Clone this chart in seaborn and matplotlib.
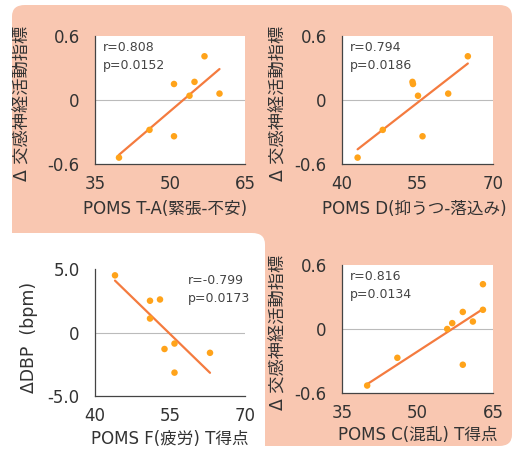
import matplotlib
matplotlib.use("Agg")
import matplotlib.pyplot as plt
import seaborn as sns
import pandas as pd
from matplotlib.patches import FancyBboxPatch

sns.set_style("white")
plt.rcParams['font.family'] = ['DejaVu Sans', 'Noto Sans CJK JP']

# data
ta_x = [39.8, 45.9, 50.8, 50.8, 53.9, 54.9, 56.9, 59.9]
ta_y = [-0.54, -0.28, 0.15, -0.34, 0.04, 0.17, 0.41, 0.06]

d_x = [43.1, 48.1, 54.0, 54.1, 55.1, 56.0, 61.1, 65.0]
d_y = [-0.54, -0.28, 0.17, 0.15, 0.04, -0.34, 0.06, 0.41]

f_x = [44.0, 51.0, 53.0, 51.0, 53.9, 55.9, 55.9, 63.0]
f_y = [4.5, 2.5, 2.6, 1.1, -1.3, -0.87, -3.16, -1.6]

c_x = [40.0, 46.0, 55.9, 56.9, 59.0, 59.0, 61.0, 63.0, 63.0]
c_y = [-0.53, -0.27, 0.0, 0.055, 0.16, -0.335, 0.07, 0.42, 0.18]

bg = '#F9C7B1'
dot = '#FFA31A'
line = '#F47B3F'
spine = '#444444'
txtc = '#333333'

fig = plt.figure(figsize=(5.17, 4.53), dpi=100)
W, H = 517, 453

def px(x0, y0, x1, y1):
    return x0 / W, 1 - y1 / H, (x1 - x0) / W, (y1 - y0) / H

# salmon background (L shape)
l, b, w, h = px(12, 5, 512, 446)
fig.patches.append(FancyBboxPatch((l, b), w, h, boxstyle="round,pad=0,rounding_size=0.025",
                                  transform=fig.transFigure, fc=bg, ec='none', zorder=-10))
l, b, w, h = px(-20, 233, 265, 480)
fig.patches.append(FancyBboxPatch((l, b), w, h, boxstyle="round,pad=0,rounding_size=0.025",
                                  transform=fig.transFigure, fc='white', ec='none', zorder=-9))

panels = [
    (ta_x, ta_y, px(95, 36, 245, 164), (35, 65), [35, 50, 65], (-0.6, 0.6), [-0.6, 0, 0.6],
     ['-0.6', '0', '0.6'], 'POMS T-A(緊張-不安)', 'Δ 交感神経活動指標', 'r=0.808\np=0.0152',
     (0.05, 0.96), (0.47, -0.28), (-0.42, 0.47)),
    (d_x, d_y, px(342, 36, 493, 164), (40, 70), [40, 55, 70], (-0.6, 0.6), [-0.6, 0, 0.6],
     ['-0.6', '0', '0.6'], 'POMS D(抑うつ-落込み)', 'Δ 交感神経活動指標', 'r=0.794\np=0.0186',
     (0.05, 0.96), (0.477, -0.28), (-0.36, 0.47)),
    (f_x, f_y, px(95, 269, 245, 396), (40, 70), [40, 55, 70], (-5, 5), [-5, 0, 5],
     ['-5.0', '0', '5.0'], 'POMS F(疲労) T得点', 'ΔDBP  (bpm)', 'r=-0.799\np=0.0173',
     (0.62, 0.96), (0.5, -0.27), (-0.38, 0.46)),
    (c_x, c_y, px(342, 265, 493, 393), (35, 65), [35, 50, 65], (-0.6, 0.6), [-0.6, 0, 0.6],
     ['-0.6', '0', '0.6'], 'POMS C(混乱) T得点', 'Δ 交感神経活動指標', 'r=0.816\np=0.0134',
     (0.05, 0.96), (0.5, -0.26), (-0.36, 0.47)),
]

for xs, ys, rect, xl, xt, yl, yt, ytl, xlab, ylab, txt, tpos, xlpos, ylpos in panels:
    ax = fig.add_axes(rect)
    ax.set_facecolor('white')
    df = pd.DataFrame({'x': xs, 'y': ys})
    ax.axhline(0, color='#bbbbbb', lw=0.8, zorder=1)
    sns.regplot(data=df, x='x', y='y', ax=ax, scatter=False, ci=None,
                line_kws=dict(color=line, lw=1.6, zorder=2))
    sns.scatterplot(data=df, x='x', y='y', ax=ax, color=dot, s=22, edgecolor='none', zorder=3)
    ax.set_xlim(xl)
    ax.set_ylim(yl)
    ax.set_xticks(xt)
    ax.set_xticklabels([str(v) for v in xt])
    ax.set_yticks(yt)
    ax.set_yticklabels(ytl)
    for s in ['top', 'right']:
        ax.spines[s].set_visible(False)
    for s in ['left', 'bottom']:
        ax.spines[s].set_color(spine)
        ax.spines[s].set_linewidth(0.9)
    ax.tick_params(axis='x', length=4, direction='inout', color=spine, labelsize=12,
                   labelcolor=txtc, pad=6)
    ax.tick_params(axis='y', length=0, labelsize=12, labelcolor=txtc, pad=11)
    ax.set_xlabel(xlab, fontsize=12, color=txtc)
    ax.set_ylabel(ylab, fontsize=12.4, color=txtc)
    ax.xaxis.set_label_coords(*xlpos)
    ax.yaxis.set_label_coords(*ylpos)
    ax.text(tpos[0], tpos[1], txt, transform=ax.transAxes, ha='left', va='top',
            fontsize=9, color='#444444', linespacing=1.45)

fig.savefig('out.png', dpi=100)
